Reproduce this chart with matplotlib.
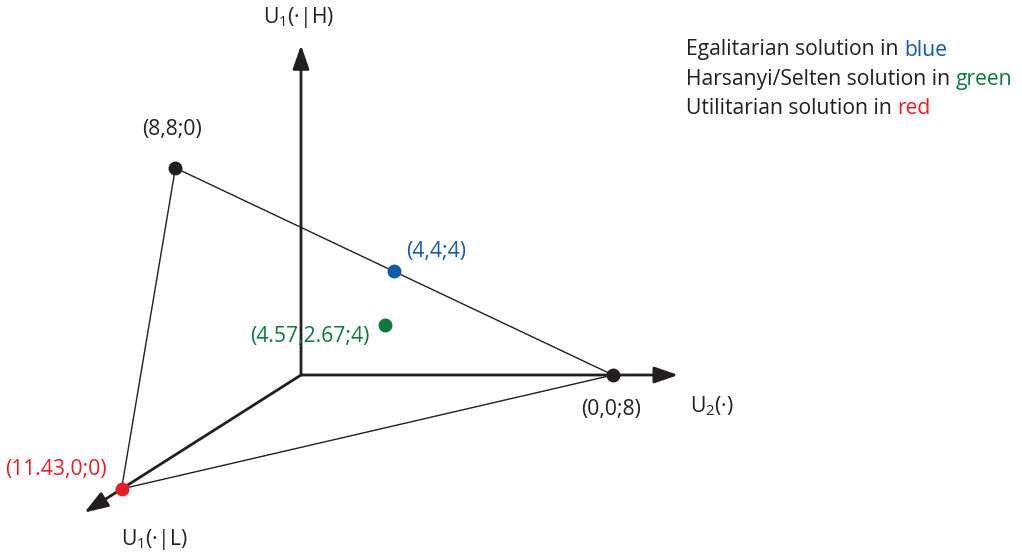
import matplotlib
matplotlib.use('Agg')
from matplotlib import pyplot as plt

# Solution points, coordinates (U1|L, U1|H ; U2)
corner_names = ['(8,8;0)', '(0,0;8)', '(11.43,0;0)']
corner_pts = [(8, 8, 0), (0, 0, 8), (11.43, 0, 0)]
egal_pt = (4, 4, 4)
hs_pt = (4.57, 2.67, 4)
util_pt = (11.43, 0, 0)

# axis lengths in utility units
axis_len_l = 13.8
axis_len_h = 9.2
axis_len_u = 9.67

legend_lines = [('Egalitarian solution in ', 'blue'),
                ('Harsanyi/Selten solution in ', 'green'),
                ('Utilitarian solution in ', 'red')]

BLACK = '#231f20'
BLUE = '#0f5ba7'
GREEN = '#0a7a3c'
RED = '#ed1c24'
word_colors = {'blue': BLUE, 'green': GREEN, 'red': RED}

# oblique projection (pixels per unit)
ORIGIN = (301, 375)
L_VEC = (-15.7, 9.97)
H_VEC = (0.0, -35.85)
U_VEC = (39.0, 0)


def proj(p):
    l, h, u = p
    x = ORIGIN[0] + l * L_VEC[0] + h * H_VEC[0] + u * U_VEC[0]
    y = ORIGIN[1] + l * L_VEC[1] + h * H_VEC[1] + u * U_VEC[1]
    return x, y


plt.rcParams['font.family'] = ['Open Sans', 'DejaVu Sans']
plt.rcParams['mathtext.fontset'] = 'custom'
plt.rcParams['mathtext.rm'] = 'Open Sans'
plt.rcParams['mathtext.it'] = 'Open Sans'
plt.rcParams['mathtext.default'] = 'regular'

fig = plt.figure(figsize=(10.22, 5.57), dpi=100)
ax = fig.add_axes([0, 0, 1, 1])
ax.set_xlim(0, 1022)
ax.set_ylim(557, 0)
ax.axis('off')

fs = 15.2

# axes with arrows
o = proj((0, 0, 0))
for end in [(axis_len_l, 0, 0), (0, axis_len_h, 0), (0, 0, axis_len_u)]:
    ax.annotate('', xy=proj(end), xytext=o,
                arrowprops=dict(arrowstyle='-|>,head_length=0.72,head_width=0.25',
                                color=BLACK, lw=2,
                                mutation_scale=20, shrinkA=0, shrinkB=0))

# triangle
tri = corner_pts + [corner_pts[0]]
xs = [proj(p)[0] for p in tri]
ys = [proj(p)[1] for p in tri]
ax.plot(xs, ys, color=BLACK, lw=1)

# corner points
for p in corner_pts[:2]:
    x, y = proj(p)
    ax.plot(x, y, 'o', color=BLACK, ms=9, zorder=5)

x, y = proj(egal_pt)
ax.plot(x, y, 'o', color=BLUE, ms=9, zorder=5)
ax.text(x + 12, y - 20, '(4,4;4)', color=BLUE, fontsize=fs, ha='left', va='center')

x, y = proj(hs_pt)
ax.plot(x, y, 'o', color=GREEN, ms=9, zorder=5)
ax.text(x - 16, y + 12, '(4.57,2.67;4)', color=GREEN, fontsize=fs, ha='right', va='center')

x, y = proj(util_pt)
ax.plot(x, y, 'o', color=RED, ms=9, zorder=5)
ax.text(x - 15, y - 19, '(11.43,0;0)', color=RED, fontsize=fs, ha='right', va='center')

x, y = proj(corner_pts[0])
ax.text(x - 3, y - 38, corner_names[0], color=BLACK, fontsize=fs, ha='center', va='center')
x, y = proj(corner_pts[1])
ax.text(x - 2, y + 35, corner_names[1], color=BLACK, fontsize=fs, ha='center', va='center')

# axis titles
ax.text(299, 17, r'U$_1$(·|H)', color=BLACK, fontsize=fs, ha='center', va='center')
ax.text(690, 406, r'U$_2$(·)', color=BLACK, fontsize=fs, ha='left', va='center')
ax.text(154, 540, r'U$_1$(·|L)', color=BLACK, fontsize=fs, ha='center', va='center')

# legend text with coloured words
fig.canvas.draw()
renderer = fig.canvas.get_renderer()
for i, (prefix, word) in enumerate(legend_lines):
    yy = 50 + i * 29
    t = ax.text(686, yy, prefix, color=BLACK, fontsize=fs, ha='left', va='center')
    bb = t.get_window_extent(renderer)
    x_end = ax.transData.inverted().transform((bb.x1, bb.y0))[0]
    ax.text(x_end, yy, word, color=word_colors[word], fontsize=fs, ha='left', va='center')

plt.savefig('out.png', dpi=100)
plt.close()
